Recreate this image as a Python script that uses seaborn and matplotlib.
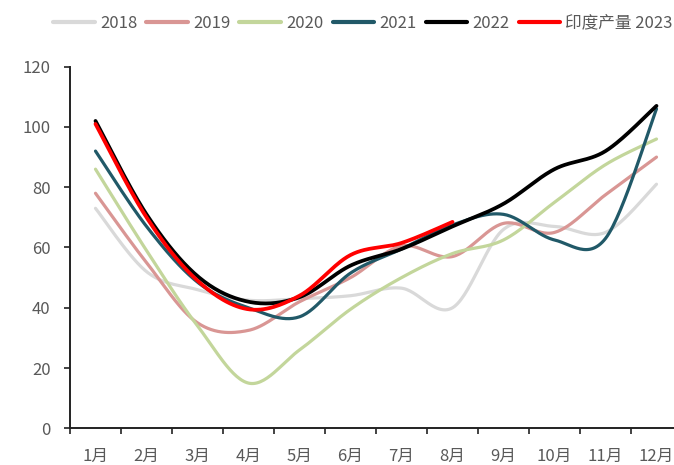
import numpy as np
import pandas as pd
import matplotlib
matplotlib.use("Agg")
import matplotlib.pyplot as plt
from matplotlib.ticker import FixedLocator, NullFormatter
import seaborn as sns

months = ["1月", "2月", "3月", "4月", "5月", "6月", "7月", "8月", "9月", "10月", "11月", "12月"]
y2018 = [73, 52, 46, 42.5, 43, 44, 46.5, 40, 66, 67, 65, 81]
y2019 = [78, 55, 35, 32.5, 42, 50, 60.5, 57, 68, 65, 77.5, 90]
y2020 = [86, 59, 34, 15, 26, 39.5, 50, 58, 62.5, 75, 87.5, 96]
y2021 = [92, 67, 48.5, 40, 37, 51.5, 59.5, 67.5, 71, 62.5, 63, 106]
y2022 = [102, 71, 50.5, 42, 43.5, 54, 59.5, 67, 74.5, 86, 92, 107]
y2023 = [101, 70, 49, 39.5, 44, 57.5, 61.5, 68.5]

series_names = ["2018", "2019", "2020", "2021", "2022", "印度产量 2023"]
series_values = [y2018, y2019, y2020, y2021, y2022, y2023]
colors = ["#d9d9d9", "#d99694", "#c3d69b", "#215968", "#000000", "#ff0000"]
widths = [2.3, 2.3, 2.3, 2.3, 2.7, 2.7]


def smooth(values, steps=30):
    """Bezier smoothing through every point (Catmull-Rom style control points)."""
    p = np.asarray(values, dtype=float)
    x = np.arange(len(p), dtype=float)
    pts = np.column_stack([x, p])
    n = len(pts)
    out = [pts[0]]
    for i in range(n - 1):
        p0 = pts[i - 1] if i > 0 else pts[i]
        p1 = pts[i]
        p2 = pts[i + 1]
        p3 = pts[i + 2] if i + 2 < n else pts[i + 1]
        c1 = p1 + (p2 - p0) / 6.0
        c2 = p2 - (p3 - p1) / 6.0
        t = np.linspace(0, 1, steps + 1)[1:, None]
        seg = ((1 - t) ** 3) * p1 + 3 * ((1 - t) ** 2) * t * c1 + 3 * (1 - t) * t ** 2 * c2 + t ** 3 * p2
        out.extend(seg)
    out = np.array(out)
    return out[:, 0], out[:, 1]


sns.set_theme(style="white")
plt.rcParams["font.family"] = ["Noto Sans CJK SC", "DejaVu Sans"]

fig = plt.figure(figsize=(6.74, 4.65), dpi=100)
ax = fig.add_axes([70 / 674, 36.7 / 465, 612 / 674, 361.6 / 465])

for name, vals, col, lw in zip(series_names, series_values, colors, widths):
    xs, ys = smooth(vals)
    df = pd.DataFrame({"x": xs, "y": ys})
    sns.lineplot(data=df, x="x", y="y", ax=ax, color=col, linewidth=lw,
                 sort=False, estimator=None, label=name, legend=False)

ax.set_xlim(-0.5, 11.5)
ax.set_ylim(0, 120)
ax.set_xlabel("")
ax.set_ylabel("")

label_color = "#595959"
ax.set_yticks(np.arange(0, 121, 20))
ax.tick_params(axis="y", which="major", direction="out", length=4, width=1.2,
               color="#222222", labelsize=12, labelcolor=label_color, pad=10, left=True)

# tick marks sit between the months, labels sit at the month centres
ax.xaxis.set_major_locator(FixedLocator(np.arange(-0.5, 12, 1.0)))
ax.xaxis.set_major_formatter(NullFormatter())
ax.xaxis.set_minor_locator(FixedLocator(np.arange(12)))
ax.set_xticklabels(months, minor=True)
ax.tick_params(axis="x", which="major", direction="out", length=4, width=1.2,
               color="#222222", bottom=True)
ax.tick_params(axis="x", which="minor", length=0, labelsize=12,
               labelcolor=label_color, pad=14, bottom=True)

for side in ["top", "right"]:
    ax.spines[side].set_visible(False)
for side in ["left", "bottom"]:
    ax.spines[side].set_color("#222222")
    ax.spines[side].set_linewidth(1.4)
ax.grid(False)

handles, labels = ax.get_legend_handles_labels()
leg = fig.legend(handles, labels, loc="center", bbox_to_anchor=(363 / 674, 1 - 23 / 465),
                 ncol=6, frameon=False, fontsize=12, handlelength=2.5,
                 handletextpad=0.3, columnspacing=0.55, borderpad=0)
for t in leg.get_texts():
    t.set_color(label_color)
for h in leg.get_lines():
    h.set_linewidth(3.0)

fig.savefig("out.png", dpi=100)
